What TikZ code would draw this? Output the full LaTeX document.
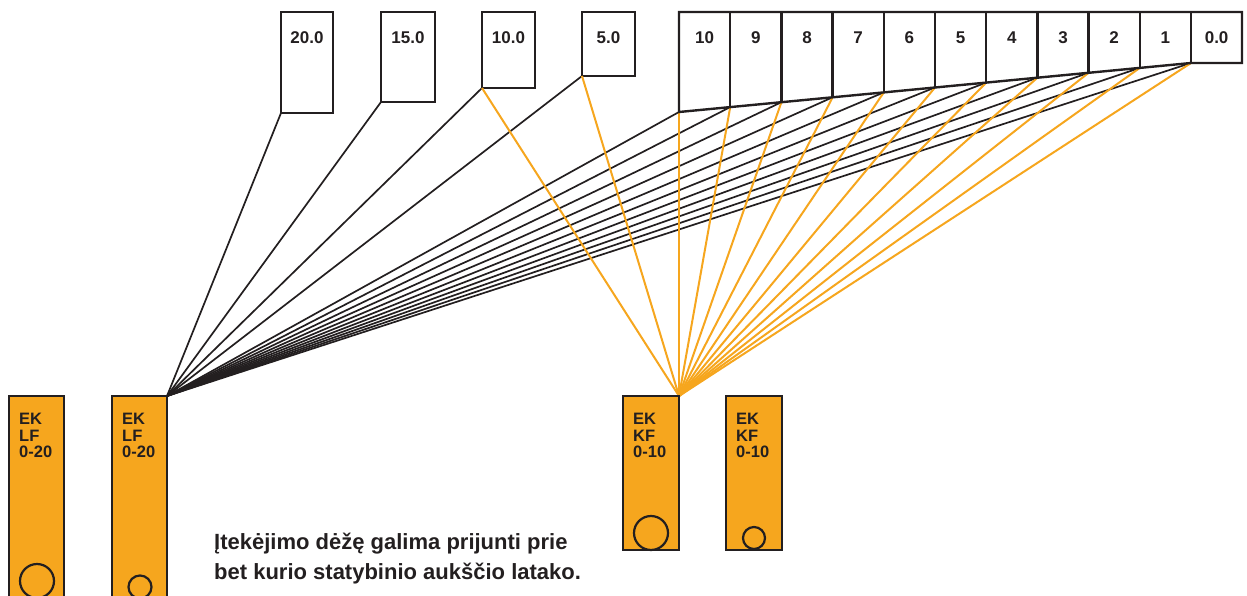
\documentclass[tikz,border=0pt]{standalone}
\usepackage{fontspec}
\setmainfont{Liberation Sans}
\definecolor{ora}{RGB}{246,166,30}
\definecolor{ink}{RGB}{35,31,32}
\begin{document}
\begin{tikzpicture}[x=1pt,y=-1pt,
  box/.style={draw=ink, line width=2.4pt, anchor=north west, inner sep=0pt, outer sep=0pt},
  obox/.style={box, fill=ora},
  lbl/.style={font=\bfseries\fontsize{17}{17}\selectfont, text=ink, inner sep=0pt, anchor=base},
  blbl/.style={font=\bfseries\fontsize{16.5}{16.5}\selectfont, text=ink, inner sep=0pt, anchor=north west, align=left},
  hole/.style={circle, draw=ink, line width=2.2pt, inner sep=0pt},
  blk/.style={draw=ink, line width=1.7pt},
  orl/.style={draw=ora, line width=2pt}]
\useasboundingbox (0,0) rectangle (1247,596);
\clip (0,0) rectangle (1247,596);
% top single boxes
\node[box, minimum width=52, minimum height=101] (b20) at (281,12) {};
\node[box, minimum width=54, minimum height=90] (b15) at (381,12) {};
\node[box, minimum width=53, minimum height=76] (b10) at (482,12) {};
\node[box, minimum width=53, minimum height=64] (b5) at (582,12) {};
\node[lbl] at ([yshift=-32]b20.north) {20.0};
\node[lbl] at ([yshift=-32]b15.north) {15.0};
\node[lbl] at ([yshift=-32]b10.north) {10.0};
\node[lbl] at ([yshift=-32]b5.north) {5.0};
% strip coordinates
\foreach \i in {0,...,10} {
  \coordinate (p\i) at ({679+51.2*\i},{112-4.9*\i});
  \coordinate (t\i) at ({679+51.2*\i},12);
}
\coordinate (tend) at (1242,12);
\coordinate (bend) at (1242,63);
% lower boxes
\node[obox, minimum width=55, minimum height=220] (lf1) at (9,396) {};
\node[obox, minimum width=55, minimum height=220] (lf2) at (112,396) {};
\node[obox, minimum width=56, minimum height=154] (kf1) at (623,396) {};
\node[obox, minimum width=56, minimum height=154] (kf2) at (726,396) {};
\node[blbl] (lf1t) at (19,413) {EK\\LF\\0-20};
\node[blbl] (lf2t) at (122,413) {EK\\LF\\0-20};
\node[blbl] (kf1t) at (633,413) {EK\\KF\\0-10};
\node[blbl] (kf2t) at (736,413) {EK\\KF\\0-10};
\node[hole, minimum size=34] (h1) at (37,581) {};
\node[hole, minimum size=23] (h2) at (140,587) {};
\node[hole, minimum size=34] (h3) at (651,533) {};
\node[hole, minimum size=22] (h4) at (754,538) {};
% black connectors to LF
\foreach \n in {b20,b15,b10,b5} \draw[blk] (\n.south west) -- (lf2.north east);
\foreach \i in {0,...,10} \draw[blk] (p\i) -- (lf2.north east);
% orange connectors to KF
\foreach \n in {b10,b5} \draw[orl] (\n.south west) -- (kf1.north east);
\foreach \i in {0,...,10} \draw[orl] (p\i) -- (kf1.north east);
% strip outline
\draw[draw=ink, line width=2.4pt, line join=miter] (tend) -- (t0) -- (p0)
  \foreach \i in {1,...,10} { -- (p\i) } -- (bend) -- cycle;
\foreach \i in {1,...,10} \draw[draw=ink, line width=2.4pt] (t\i) -- (p\i);
\foreach \i/\t in {0/10,1/9,2/8,3/7,4/6,5/5,6/4,7/3,8/2,9/1,10/0.0}
  \node[lbl] at ({679+51.2*\i+25.6},44) {\t};
% redraw lower box borders over connectors
\draw[box] (lf2.north west) rectangle (lf2.south east);
\draw[box] (kf1.north west) rectangle (kf1.south east);
\node[font=\bfseries\fontsize{22}{30}\selectfont, text=ink, inner sep=0pt, anchor=base west, align=left] (note) at (214,579)
  {Įtekėjimo dėžę galima prijunti prie\\bet kurio statybinio aukščio latako.};
\end{tikzpicture}
\end{document}
